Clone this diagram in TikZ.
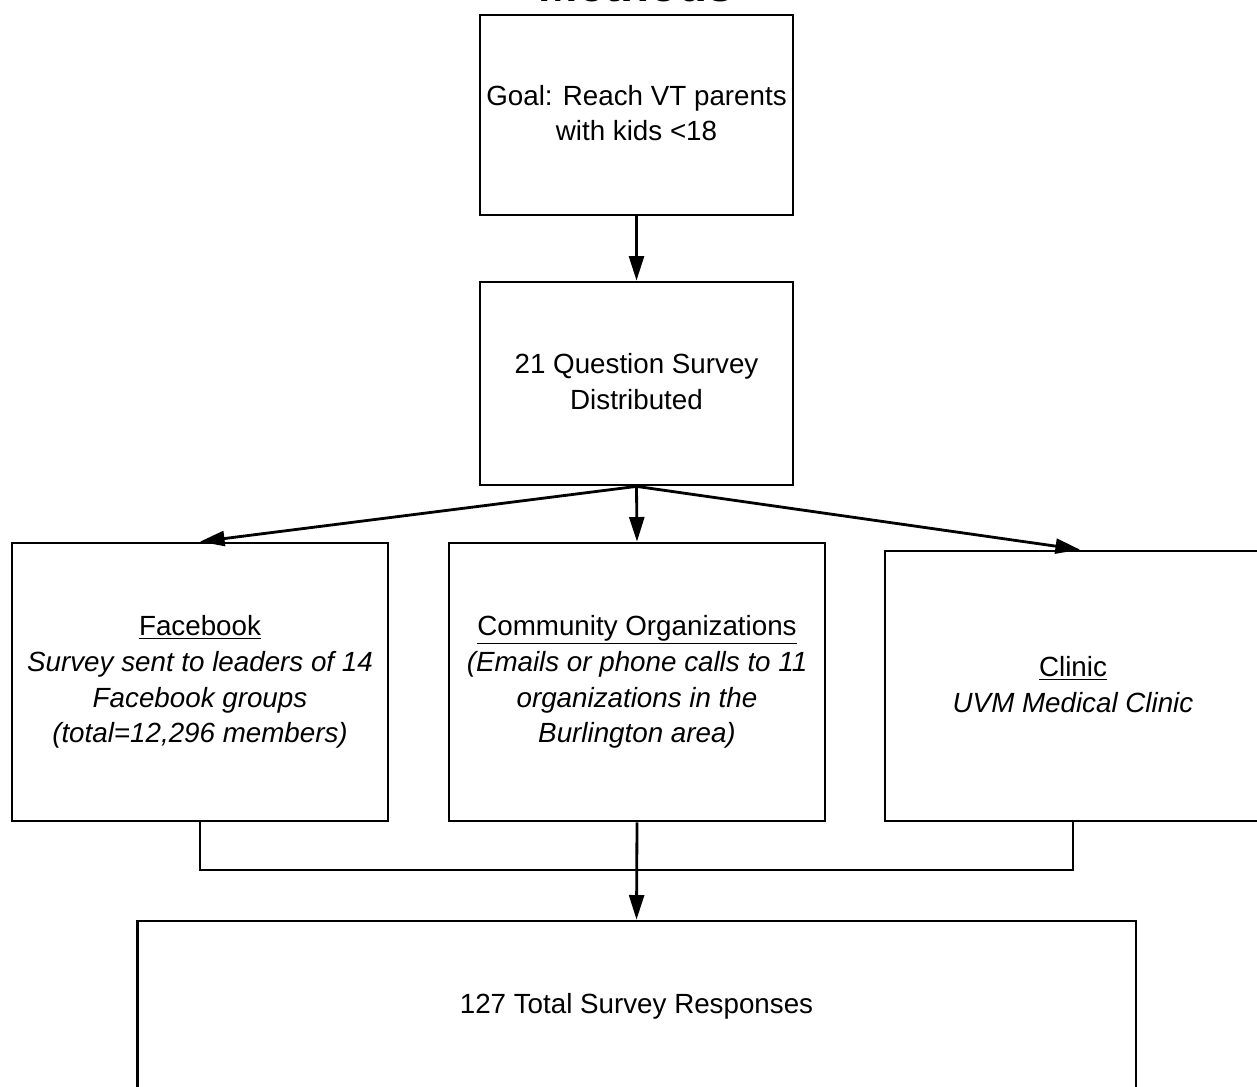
\documentclass[tikz,border=0pt]{standalone}
\usepackage{fontspec}
\setmainfont{Liberation Sans}
\usetikzlibrary{arrows.meta}

\tikzset{
  box/.style={draw, line width=1.6pt, align=center, inner sep=0pt,
    font=\fontsize{15.8}{20.4}\selectfont},
  arrow/.style={line width=1.6pt, -{Triangle[length=14pt,width=8.5pt]}},
  link/.style={line width=1.3pt}
}

\begin{document}
\begin{tikzpicture}[x=0.02cm, y=-0.02cm]
  \useasboundingbox (0,0) rectangle (1257,1087);

  \node[anchor=base, font=\bfseries\fontsize{27}{27}\selectfont] (title) at (636,1.5) {Methods};

  \node[box, minimum width=6.26cm, minimum height=4cm] (goal) at (636.5,115)
    {\raisebox{0.08cm}{Goal: Reach VT parents}\\\raisebox{0.08cm}{with kids <18}};
  \node[box, minimum width=6.26cm, minimum height=4.06cm] (survey) at (636.5,383.5)
    {\raisebox{0.08cm}{21 Question Survey}\\\raisebox{0.08cm}{Distributed}};

  \node[box, minimum width=7.52cm, minimum height=5.56cm] (fb) at (200,682)
    {\underline{Facebook}\\\itshape Survey sent to leaders of 14\\\itshape Facebook groups\\\itshape (total=12,296 members)};
  \node[box, minimum width=7.52cm, minimum height=5.56cm] (comm) at (637,682)
    {\underline{Community Organizations}\\\itshape (Emails or phone calls to 11\\\itshape organizations in the\\\itshape Burlington area)};
  \node[box, minimum width=7.52cm, minimum height=5.4cm] (clinic) at (1073,686)
    {\raisebox{0.06cm}{\underline{Clinic}}\\\raisebox{0.06cm}{\itshape UVM Medical Clinic}};

  \node[box, minimum width=19.98cm, minimum height=3.8cm] (total) at (636.5,1016)
    {\raisebox{0.52cm}{127 Total Survey Responses}};

  \draw[arrow] (goal.south) -- (survey.north);
  \draw[arrow] (survey.south) -- (fb.north);
  \draw[arrow] (survey.south) -- (comm.north);
  \draw[arrow] (survey.south) -- ([xshift=0.14cm]clinic.north);

  \coordinate (join) at (636,870);
  \draw[link] (fb.south) |- (join) -| (clinic.south);
  \draw[arrow] (comm.south) -- (total.north);

\end{tikzpicture}
\end{document}
